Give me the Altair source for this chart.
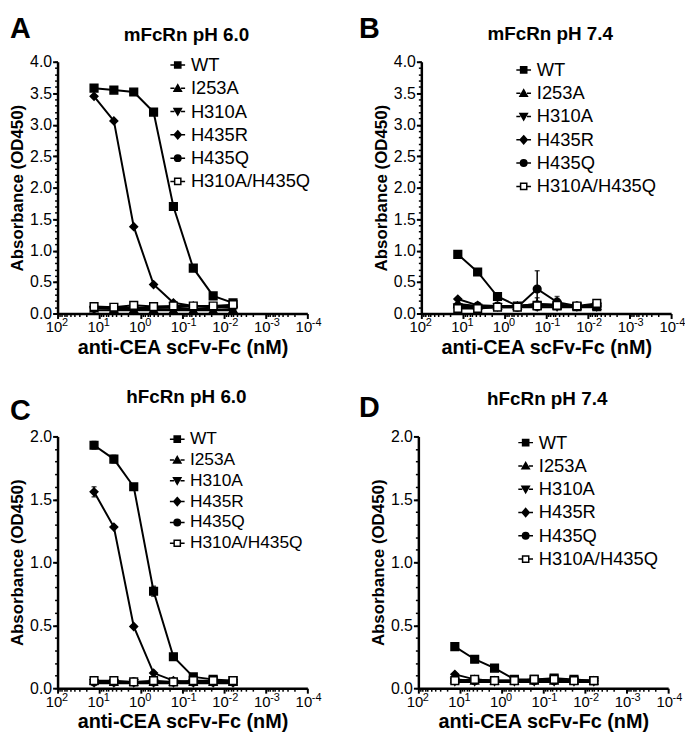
import altair as alt
import pandas as pd

# ---------------- data ----------------
conc = [13.3, 4.44, 1.48, 0.494, 0.165, 0.0549, 0.0183, 0.0061]
series = ["WT", "I253A", "H310A", "H435R", "H435Q", "H310A/H435Q"]
panel_letters = ["A", "B", "C", "D"]
panel_titles = ["mFcRn pH 6.0", "mFcRn pH 7.4", "hFcRn pH 6.0", "hFcRn pH 7.4"]

# Panel A: mFcRn pH 6.0
A_WT = [3.58, 3.55, 3.52, 3.20, 1.70, 0.72, 0.28, 0.17]
A_I253A = [0.08, 0.07, 0.07, 0.07, 0.06, 0.06, 0.06, 0.07]
A_H310A = [0.05, 0.05, 0.05, 0.05, 0.05, 0.05, 0.05, 0.05]
A_H435R = [3.45, 3.06, 1.38, 0.46, 0.17, 0.12, 0.11, 0.10]
A_H435Q = [0.10, 0.09, 0.09, 0.09, 0.09, 0.08, 0.09, 0.12]
A_DM = [0.11, 0.10, 0.13, 0.11, 0.12, 0.12, 0.12, 0.14]

# Panel B: mFcRn pH 7.4
B_WT = [0.94, 0.66, 0.27, 0.12, 0.13, 0.12, 0.11, 0.11]
B_I253A = [0.15, 0.12, 0.12, 0.12, 0.15, 0.14, 0.12, 0.12]
B_H310A = [0.10, 0.09, 0.10, 0.10, 0.10, 0.10, 0.10, 0.10]
B_H435R = [0.23, 0.13, 0.12, 0.12, 0.15, 0.13, 0.12, 0.12]
B_H435Q = [0.12, 0.12, 0.12, 0.10, 0.39, 0.18, 0.12, 0.12]
B_DM = [0.08, 0.08, 0.10, 0.10, 0.12, 0.13, 0.12, 0.16]
B_I253A_ERR = [0, 0, 0, 0, 0.10, 0, 0, 0]
B_H435Q_ERR = [0, 0, 0, 0, 0.29, 0.09, 0, 0]

# Panel C: hFcRn pH 6.0
C_WT = [1.93, 1.82, 1.60, 0.77, 0.25, 0.09, 0.07, 0.06]
C_I253A = [0.06, 0.05, 0.05, 0.05, 0.05, 0.05, 0.05, 0.05]
C_H310A = [0.04, 0.04, 0.04, 0.04, 0.04, 0.04, 0.04, 0.04]
C_H435R = [1.56, 1.28, 0.49, 0.12, 0.06, 0.05, 0.05, 0.05]
C_H435Q = [0.05, 0.05, 0.05, 0.05, 0.05, 0.05, 0.05, 0.05]
C_DM = [0.06, 0.06, 0.05, 0.06, 0.05, 0.06, 0.06, 0.06]
C_WT_ERR = [0.03, 0.03, 0.01, 0.04, 0, 0, 0, 0]
C_H435R_ERR = [0.04, 0, 0, 0, 0, 0, 0, 0]

# Panel D: hFcRn pH 7.4
D_WT = [0.33, 0.23, 0.16, 0.07, 0.07, 0.08, 0.07, 0.06]
D_I253A = [0.07, 0.06, 0.06, 0.06, 0.06, 0.06, 0.06, 0.06]
D_H310A = [0.05, 0.05, 0.05, 0.05, 0.05, 0.05, 0.05, 0.05]
D_H435R = [0.11, 0.07, 0.06, 0.06, 0.06, 0.06, 0.06, 0.06]
D_H435Q = [0.06, 0.06, 0.06, 0.06, 0.06, 0.06, 0.06, 0.06]
D_DM = [0.06, 0.07, 0.06, 0.06, 0.07, 0.07, 0.06, 0.06]

ZERO = [0] * 8
panels_data = [
    [(A_WT, ZERO), (A_I253A, ZERO), (A_H310A, ZERO), (A_H435R, ZERO), (A_H435Q, ZERO), (A_DM, ZERO)],
    [(B_WT, ZERO), (B_I253A, B_I253A_ERR), (B_H310A, ZERO), (B_H435R, ZERO), (B_H435Q, B_H435Q_ERR), (B_DM, ZERO)],
    [(C_WT, C_WT_ERR), (C_I253A, ZERO), (C_H310A, ZERO), (C_H435R, C_H435R_ERR), (C_H435Q, ZERO), (C_DM, ZERO)],
    [(D_WT, ZERO), (D_I253A, ZERO), (D_H310A, ZERO), (D_H435R, ZERO), (D_H435Q, ZERO), (D_DM, ZERO)],
]
y_max = [4.0, 4.0, 2.0, 2.0]
y_major = [[0, 0.5, 1, 1.5, 2, 2.5, 3, 3.5, 4], [0, 0.5, 1, 1.5, 2, 2.5, 3, 3.5, 4],
           [0, 0.5, 1, 1.5, 2], [0, 0.5, 1, 1.5, 2]]
x_major = [100, 10, 1, 0.1, 0.01, 0.001, 0.0001]
x_minor = [m * 10.0 ** k for k in range(-4, 2) for m in range(2, 10)]

shapes = ["square", "triangle-up", "triangle-down", "diamond", "circle", "square"]
fills = ["black", "black", "black", "black", "black", "white"]
# legend glyphs: marker with a short line segment through it
LINE = "M-1,0H-0.45M0.45,0H1"
legend_shapes = [
    "M-0.42,-0.42H0.42V0.42H-0.42Z" + LINE,
    "M-0.5,0.4L0,-0.48L0.5,0.4Z" + LINE,
    "M-0.5,-0.4L0,0.48L0.5,-0.4Z" + LINE,
    "M0,-0.55L0.48,0L0,0.55L-0.48,0Z" + LINE,
    "M0.44,0A0.44,0.44,0,1,1,-0.44,0A0.44,0.44,0,1,1,0.44,0Z" + LINE,
    "M-0.42,-0.42H0.42V0.42H-0.42Z" + LINE,
]

FONT = "Liberation Sans"

legend_pos = [(112, -6), (94, -1), (112, -6), (99, -3)]
legend_row = [4.5, 4.5, 2.0, 4.5]
legend_font = [18.5, 18.5, 17.5, 18.5]
letter_pos = [(-48, -47), (-63, -47), (-48, -40), (-60, -43)]
title_y = [-27, -28, -40, -38]
PW = 252


def make_panel(i):
    rows = []
    for s, (vals, errs) in zip(series, panels_data[i]):
        for c, v, e in zip(conc, vals, errs):
            rows.append({"conc": c, "series": s, "od": v, "err": e, "lo": v - e, "hi": v + e})
    df = pd.DataFrame(rows)
    ymax = y_max[i]
    y_minor = [round(k * 0.1, 2) for k in range(int(ymax * 10) + 1)]
    xscale = alt.Scale(type="log", domain=[0.0001, 100], reverse=True, nice=False)
    yscale = alt.Scale(domain=[0, ymax], nice=False)

    axis_common = dict(grid=False, domainColor="black", domainWidth=2.5, tickColor="black",
                       tickWidth=2, tickSize=5, labelColor="black", labelFont=FONT,
                       titleFont=FONT, titleFontWeight="bold",
                       titleColor="black", labelOverlap=False, labelFlush=False)
    x_axis = alt.Axis(values=x_major, labelExpr="'10'", title="anti-CEA scFv-Fc (nM)",
                      orient="bottom", labelPadding=1, titlePadding=3, titleFontSize=20,
                      labelFontSize=15, labelOffset=-4, **axis_common)
    y_axis = alt.Axis(values=y_major[i], format=".1f", title="Absorbance (OD450)", orient="left",
                      labelPadding=1, titlePadding=3, titleFontSize=17, labelFontSize=16,
                      **axis_common)
    minor_common = dict(grid=False, domain=False, labels=False, tickColor="black", tickWidth=1.5,
                        tickSize=3, title=None)
    x_minor_axis = alt.Axis(values=x_minor, orient="bottom", **minor_common)
    y_minor_axis = alt.Axis(values=y_minor, orient="left", **minor_common)
    # exponent labels (superscripts) as a separate label-only axis
    x_exp_axis = alt.Axis(values=x_major, orient="bottom", grid=False, domain=False, ticks=False,
                          title=None,
                          labelExpr="'' + round(log(datum.value) / LN10)",
                          labelFont=FONT, labelFontSize=11, labelColor="black", labelAlign="left",
                          labelOffset=4, labelPadding=3, labelOverlap=False, labelFlush=False)

    base = alt.Chart(df)
    lines = base.mark_line(color="black", strokeWidth=2).encode(
        x=alt.X("conc:Q", scale=xscale, axis=x_axis),
        y=alt.Y("od:Q", scale=yscale, axis=y_axis),
        detail="series:N",
    )
    err = base.transform_filter("datum.err > 0").mark_errorbar(ticks=True, color="black",
                                                               thickness=1.5).encode(
        x=alt.X("conc:Q", scale=xscale, axis=x_minor_axis),
        y=alt.Y("lo:Q", scale=yscale, axis=y_minor_axis, title=None),
        y2="hi:Q",
    )
    pts = base.mark_point(stroke="black", strokeWidth=1.5, opacity=1, size=60).encode(
        x=alt.X("conc:Q", scale=xscale, axis=x_exp_axis),
        y=alt.Y("od:Q", scale=yscale, axis=None),
        shape=alt.Shape("series:N", scale=alt.Scale(domain=series, range=shapes), legend=None),
        fill=alt.Fill("series:N", scale=alt.Scale(domain=series, range=fills), legend=None),
    )
    lx, ly = legend_pos[i]
    legend = alt.Legend(title=None, orient="none", legendX=lx, legendY=ly, labelFont=FONT,
                        labelFontSize=legend_font[i], labelColor="black",
                        symbolSize=220, symbolStrokeWidth=1.5, symbolOpacity=1,
                        rowPadding=legend_row[i], labelOffset=4, symbolOffset=0)
    # legend-only layer: no rows drawn, entries come from the explicit scale domain
    leg = base.transform_filter("false").mark_point(strokeWidth=1.5, opacity=1).encode(
        x=alt.X("conc:Q", scale=xscale, axis=None),
        y=alt.Y("od:Q", scale=yscale, axis=None),
        shape=alt.Shape("series:N", scale=alt.Scale(domain=series, range=legend_shapes), legend=legend),
        fill=alt.Fill("series:N", scale=alt.Scale(domain=series, range=fills), legend=legend),
        stroke=alt.Stroke("series:N", scale=alt.Scale(domain=series, range=["black"] * 6), legend=legend),
    )
    lxp, lyp = letter_pos[i]
    letter = alt.Chart(pd.DataFrame({"t": [panel_letters[i]]})).mark_text(
        font=FONT, fontSize=29, fontWeight="bold", align="left", baseline="top", color="black"
    ).encode(text="t:N", x=alt.value(lxp), y=alt.value(lyp))
    title = alt.Chart(pd.DataFrame({"t": [panel_titles[i]]})).mark_text(
        font=FONT, fontSize=19, fontWeight="bold", align="center", baseline="middle", color="black"
    ).encode(text="t:N", x=alt.value(130), y=alt.value(title_y[i]))

    layer = alt.layer(lines, err, pts, leg, letter, title).resolve_axis(
        x="independent", y="independent").resolve_scale(
        shape="independent", fill="independent", stroke="independent").resolve_legend(
        shape="independent", fill="independent", stroke="independent")
    return layer.properties(width=PW, height=254)


def row(a, b, spacing):
    return alt.hconcat(a, b, spacing=spacing).resolve_scale(
        shape="independent", fill="independent", stroke="independent").resolve_legend(
        shape="independent", fill="independent", stroke="independent")


top = row(make_panel(0), make_panel(1), 38)
bottom = row(make_panel(2), make_panel(3), 38)
chart = alt.vconcat(top, bottom, spacing=31).resolve_scale(
    shape="independent", fill="independent", stroke="independent").resolve_legend(
    shape="independent", fill="independent", stroke="independent").configure_view(
    stroke=None).properties(padding={"left": 0, "top": 4, "right": 0, "bottom": 0})

chart.save("out.html", embed_options={"renderer": "svg", "actions": False})
